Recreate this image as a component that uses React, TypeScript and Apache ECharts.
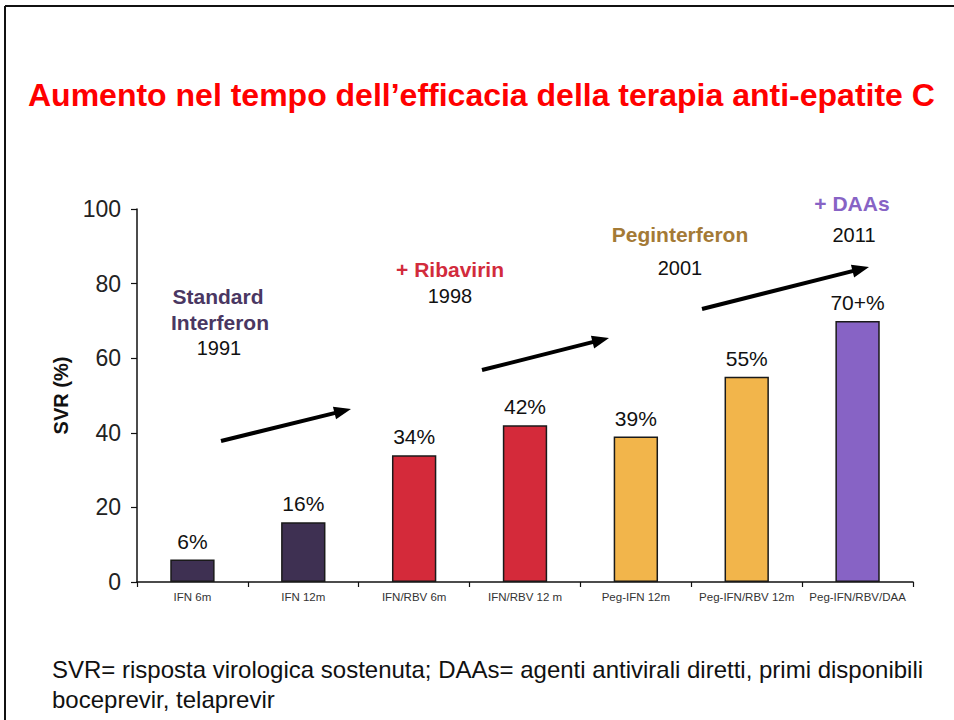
import React, { useEffect, useRef } from "react";
import * as echarts from "echarts";

const categories = ["IFN 6m", "IFN 12m", "IFN/RBV 6m", "IFN/RBV 12 m", "Peg-IFN 12m", "Peg-IFN/RBV 12m", "Peg-IFN/RBV/DAA"];
const svrValues = [6, 16, 34, 42, 39, 55, 70];
const valueLabels = ["6%", "16%", "34%", "42%", "39%", "55%", "70+%"];
const barColors = ["#3e3052", "#3e3052", "#d42a3a", "#d42a3a", "#f2b54b", "#f2b54b", "#8763c5"];
const yTicks = [0, 20, 40, 60, 80, 100];

const FONT = "'Liberation Sans', Arial, Helvetica, sans-serif";

function arrow(x1: number, y1: number, x2: number, y2: number) {
  const ang = Math.atan2(y2 - y1, x2 - x1);
  const len = 17;
  const half = 6.5;
  const bx = x2 - len * Math.cos(ang);
  const by = y2 - len * Math.sin(ang);
  const px = -Math.sin(ang);
  const py = Math.cos(ang);
  return [
    {
      type: "line",
      shape: { x1, y1, x2: bx + 2 * Math.cos(ang), y2: by + 2 * Math.sin(ang) },
      style: { stroke: "#000", lineWidth: 4 },
    },
    {
      type: "polygon",
      shape: {
        points: [
          [x2, y2],
          [bx + px * half, by + py * half],
          [bx - px * half, by - py * half],
        ],
      },
      style: { fill: "#000" },
    },
  ];
}

function txt(x: number, y: number, text: string, size: number, color: string, bold: boolean, align = "center") {
  return {
    type: "text",
    x,
    y,
    style: {
      text,
      fill: color,
      font: `${bold ? "bold " : ""}${size}px ${FONT}`,
      align,
      verticalAlign: "middle",
    },
  };
}

export default function App() {
  const ref = useRef<HTMLDivElement>(null);
  useEffect(() => {
    document.body.style.margin = "0";
    const chart = echarts.init(ref.current!, null, { renderer: "svg" });
    chart.setOption({
      animation: false,
      backgroundColor: "#ffffff",
      grid: { left: 137, right: 41, top: 209, bottom: 138 },
      xAxis: {
        type: "category",
        data: categories,
        axisLine: { lineStyle: { color: "#111", width: 1.5 } },
        axisTick: { show: true, length: 5, inside: false, lineStyle: { color: "#111", width: 1.2 } },
        axisLabel: { color: "#333", fontSize: 11.5, fontFamily: FONT, margin: 9, interval: 0 },
      },
      yAxis: {
        type: "value",
        min: yTicks[0],
        max: yTicks[yTicks.length - 1],
        interval: 20,
        name: "SVR (%)",
        nameLocation: "middle",
        nameGap: 66,
        nameRotate: 90,
        nameTextStyle: { fontSize: 20, fontWeight: "bold", color: "#111", fontFamily: FONT },
        axisLine: { show: true, lineStyle: { color: "#111", width: 1.5 } },
        axisTick: { show: true, length: 6, lineStyle: { color: "#111", width: 1.2 } },
        axisLabel: { color: "#222", fontSize: 23, fontFamily: FONT, margin: 16 },
        splitLine: { show: false },
      },
      series: [
        {
          type: "bar",
          barWidth: "40%",
          data: svrValues.map((v, i) => ({
            value: v,
            itemStyle: { color: barColors[i], borderColor: "#1a1a1a", borderWidth: 1.5 },
          })),
          label: {
            show: true,
            position: "top",
            distance: 8,
            color: "#111",
            fontSize: 21,
            fontFamily: FONT,
            formatter: (p: any) => valueLabels[p.dataIndex],
          },
        },
      ],
      graphic: [
        { type: "line", shape: { x1: 5, y1: 6, x2: 954, y2: 6 }, style: { stroke: "#111", lineWidth: 2 } },
        { type: "line", shape: { x1: 5, y1: 6, x2: 5, y2: 720 }, style: { stroke: "#111", lineWidth: 2 } },
        txt(28, 95, "Aumento nel tempo dell’efficacia della terapia anti-epatite C", 32, "#ff0000", true, "left"),
        txt(218, 296, "Standard", 21, "#4a3762", true),
        txt(220, 322, "Interferon", 21, "#4a3762", true),
        txt(219, 348, "1991", 20, "#111", false),
        txt(450, 269, "+ Ribavirin", 21, "#d22b3c", true),
        txt(450, 296, "1998", 20, "#111", false),
        txt(680, 234, "Peginterferon", 21, "#a47a36", true),
        txt(680, 268, "2001", 20, "#111", false),
        txt(852, 203, "+ DAAs", 21, "#8763c5", true),
        txt(854, 235, "2011", 20, "#111", false),
        ...arrow(221, 441, 351, 409),
        ...arrow(482, 370, 609, 338),
        ...arrow(702, 309, 869, 267),
        txt(52, 669, "SVR= risposta virologica sostenuta; DAAs= agenti antivirali diretti, primi disponibili", 24, "#111", false, "left"),
        txt(52, 699, "boceprevir, telaprevir", 24, "#111", false, "left"),
      ],
    });
    return () => chart.dispose();
  }, []);
  return <div ref={ref} style={{ position: "absolute", left: 0, top: 0, width: 954, height: 720 }} />;
}
